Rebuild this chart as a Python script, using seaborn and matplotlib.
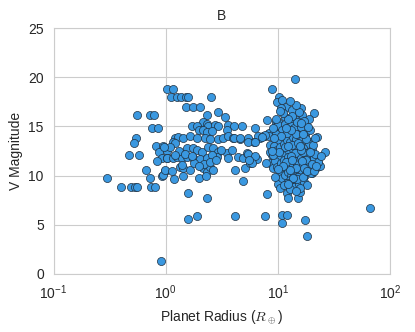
import pandas as pd
import matplotlib
matplotlib.use("Agg")
import matplotlib.pyplot as plt
import seaborn as sns

# Small planets (R < 1 Earth radius)
radius_small = [0.56, 0.72, 0.78, 0.75, 0.85, 0.54, 0.52, 0.47, 0.58, 0.82,
                0.94, 0.87, 1.02, 0.92, 1.02, 0.83, 0.67, 0.98, 0.30, 0.72,
                0.92, 0.40, 0.49, 0.53, 0.55, 0.74, 0.80, 0.91, 0.94]
vmag_small = [16.2, 16.2, 16.2, 14.8, 14.8, 13.8, 13.3, 12.1, 12.1, 13.0,
              13.0, 12.4, 12.5, 11.8, 11.8, 11.5, 10.6, 10.5, 9.75, 9.75,
              10.0, 8.85, 8.85, 8.85, 8.85, 8.85, 8.85, 1.3, 10.1]

# Intermediate planets (1 - 9 Earth radii)
radius_mid = [1.03, 1.16, 1.11, 1.26, 1.36, 1.51, 1.58, 2.52, 1.51, 1.75,
              2.02, 8.83, 2.92, 2.33, 3.37, 7.95, 9.6, 2.14, 2.33, 2.38,
              2.74, 2.92, 3.58, 4.05, 4.77, 1.71, 1.90, 1.98, 2.14, 2.33,
              2.58, 3.51, 6.23, 1.21, 1.28, 1.42, 1.64, 1.90, 2.24, 2.48,
              2.92, 3.23, 3.58, 3.97, 4.58, 5.4, 6.9, 7.64, 8.1, 1.16,
              1.21, 1.09, 0.97, 1.34, 1.55, 1.75, 1.90, 2.10, 2.38, 2.63,
              2.92, 3.51, 3.88, 4.40, 4.87, 5.28, 5.98, 6.49, 1.03, 1.16,
              1.26, 1.39, 1.55, 1.75, 2.02, 2.33, 2.85, 3.62, 0.98, 1.14,
              1.34, 1.42, 1.64, 2.14, 2.33, 2.48, 2.63, 4.13, 5.07, 5.62,
              1.18, 1.42, 1.98, 2.28, 4.87, 1.58, 2.33, 7.95, 1.58, 1.90,
              4.13, 7.64, 8.3, 6.6, 7.4, 8.3, 6.1, 5.4, 6.2, 5.9,
              5.5, 8.5, 8.8, 8.5, 9.8, 7.8, 8.5, 4.1, 4.6, 5.4,
              6.2, 9.0, 1.3, 1.5, 1.8, 2.2, 2.6, 3.1, 1.4, 1.7,
              2.0, 2.5, 1.2, 2.8]
vmag_mid = [18.8, 18.8, 18.0, 18.0, 18.0, 18.0, 18.0, 18.0, 17.0, 17.0,
            17.0, 18.8, 16.5, 16.2, 16.0, 15.7, 15.5, 15.5, 15.3, 15.0,
            15.2, 15.0, 15.2, 15.1, 15.0, 15.1, 15.0, 14.6, 14.6, 14.4,
            14.5, 14.6, 14.8, 13.8, 13.9, 13.8, 14.0, 13.8, 13.8, 13.7,
            13.7, 13.8, 14.0, 13.8, 13.7, 13.8, 13.8, 14.0, 14.2, 13.4,
            13.3, 12.9, 12.9, 12.3, 12.8, 12.8, 12.6, 12.4, 12.9, 12.8,
            12.4, 12.3, 12.6, 11.9, 11.8, 12.3, 11.9, 11.7, 11.8, 11.8,
            11.9, 11.8, 11.9, 11.8, 11.7, 11.8, 11.9, 11.8, 10.6, 10.5,
            10.9, 10.8, 10.6, 10.8, 10.4, 10.9, 10.6, 10.6, 10.8, 11.3,
            9.7, 10.0, 9.8, 10.0, 9.5, 8.2, 7.7, 8.1, 5.6, 5.9,
            5.9, 5.9, 14.3, 14.0, 14.0, 14.0, 13.4, 12.2, 12.0, 11.3,
            11.6, 13.1, 12.1, 11.3, 11.4, 11.3, 12.4, 13.8, 13.8, 13.4,
            13.4, 10.8, 12.5, 12.2, 11.3, 11.2, 12.1, 12.6, 11.1, 12.0,
            11.0, 11.4, 12.1, 11.6]

# Giant planets (> 9 Earth radii)
radius_big = [14.1, 10.2, 9.8, 10.8, 11.8, 10.6, 13.3, 16.0, 20.9, 16.3,
              14.4, 18.8, 11.5, 10.0, 13.3, 12.2, 9.4, 7.6, 7.2, 15.7,
              17.4, 22.2, 19.2, 26.2, 22.6, 22.2, 20.0, 16.7, 15.7, 14.7,
              10.0, 10.4, 12.0, 12.2, 15.0, 15.7, 16.7, 10.8, 12.0, 10.8,
              17.4, 18.1, 65.8, 23.6,
              10.1, 10.9, 11.6, 12.3, 13.1, 14.0, 15.2, 12.8, 11.0, 10.3,
              9.7, 9.2, 9.9, 10.5, 11.3, 12.0, 12.9, 13.6, 14.6, 15.5,
              16.4, 17.6, 18.8, 16.9, 15.8, 14.9, 13.9, 13.2, 12.5, 11.7,
              10.8, 10.0, 9.4, 9.8, 10.6, 11.4, 12.2, 12.9, 13.7, 14.5,
              15.4, 16.2, 17.3, 18.5, 19.8, 21.0, 20.3, 18.0, 16.8, 15.9,
              15.0, 14.2, 13.4, 12.6, 11.9, 11.1, 10.4, 10.9, 11.6, 12.4,
              13.1, 13.9, 14.8, 15.6, 16.5, 17.5, 18.7, 19.6, 20.8, 16.1,
              15.1, 14.3, 13.5, 12.7, 12.0, 11.3, 14.0, 15.4, 17.0, 18.3,
              12.9, 13.8, 14.8, 16.2, 17.0, 13.3, 12.4, 11.2, 10.4, 9.6,
              15.5, 14.5, 12.9, 16.6, 14.1, 11.5, 13.4, 15.0, 12.1, 10.7,
              9.1, 17.9, 19.2, 20.5, 21.6, 22.8, 24.0, 17.8, 19.0, 20.0,
              13.0, 11.9, 14.6, 13.4, 16.0, 12.2, 10.2, 15.7, 14.4, 13.0,
              11.8, 16.7, 18.4, 15.9, 12.7, 14.9, 16.3, 17.2, 11.0, 13.6,
              12.3, 15.8, 14.5, 16.8, 18.1, 19.4, 20.9, 22.0, 21.2, 10.1,
              9.5, 9.3, 8.9, 9.0]
vmag_big = [19.8, 18.0, 17.5, 17.7, 17.0, 16.9, 16.7, 16.9, 16.4, 16.2,
            15.7, 15.8, 16.0, 15.5, 15.5, 15.0, 14.9, 14.1, 13.9, 14.3,
            14.1, 13.9, 13.4, 12.4, 11.3, 10.9, 10.3, 9.8, 9.3, 9.6,
            9.1, 8.7, 8.2, 7.7, 7.7, 8.3, 9.3, 6.0, 6.0, 5.2,
            5.5, 3.9, 6.7, 11.0,
            15.2, 14.6, 15.3, 14.8, 15.1, 14.6, 15.0, 14.2, 13.9, 13.5,
            14.2, 13.0, 12.6, 12.9, 13.2, 13.6, 13.4, 13.9, 13.7, 14.1,
            13.6, 14.4, 13.2, 12.8, 12.9, 12.6, 12.9, 12.4, 12.7, 12.3,
            12.1, 11.8, 11.5, 10.9, 11.3, 11.6, 11.9, 11.5, 12.0, 11.8,
            12.2, 11.9, 12.3, 12.0, 11.5, 11.8, 12.6, 11.2, 11.0, 11.3,
            11.0, 11.2, 10.9, 11.1, 10.8, 10.5, 10.2, 9.8, 10.1, 10.4,
            10.0, 10.3, 10.6, 10.2, 10.5, 10.1, 10.6, 10.3, 10.9, 9.6,
            9.9, 9.5, 9.2, 9.6, 9.3, 9.0, 8.8, 9.1, 9.4, 9.0,
            8.6, 14.8, 15.5, 14.9, 15.6, 16.1, 15.8, 16.4, 16.6, 15.8,
            16.5, 17.2, 17.6, 12.4, 12.3, 12.9, 13.1, 13.3, 14.3, 14.0,
            12.1, 13.7, 14.6, 13.1, 12.2, 11.4, 12.0, 11.6, 10.9, 11.2,
            12.0, 11.4, 10.8, 11.6, 12.6, 13.0, 12.4, 13.0, 14.2, 14.6,
            14.8, 14.2, 14.9, 15.4, 10.6, 9.7, 11.5, 10.8, 11.0, 9.8,
            9.1, 8.7, 8.4, 9.9, 10.5, 12.4, 10.5, 11.0, 13.8, 10.7,
            9.9, 13.8, 12.5, 14.8]

df = pd.DataFrame({
    "radius": radius_small + radius_mid + radius_big,
    "vmag": vmag_small + vmag_mid + vmag_big,
})

sns.set_style("whitegrid")
plt.rcParams["font.family"] = ["Liberation Sans", "DejaVu Sans"]
plt.rcParams["mathtext.fontset"] = "cm"

fig = plt.figure(figsize=(4.15, 3.32), dpi=100)
ax = fig.add_axes([0.129, 0.175, 0.811, 0.740])

sns.scatterplot(data=df, x="radius", y="vmag", ax=ax, s=34,
                color="#3a98e0", edgecolor="#1f2f3f", linewidth=0.5)

ax.set_xscale("log")
ax.set_xlim(0.1, 100)
ax.set_ylim(0, 25)
ax.set_yticks([0, 5, 10, 15, 20, 25])
ax.tick_params(labelsize=10)
ax.set_xlabel(r"Planet Radius ($R_\oplus$)", fontsize=10)
ax.set_ylabel("V Magnitude", fontsize=10)
ax.set_title("B", fontsize=10)
ax.minorticks_off()

fig.savefig("out.png", dpi=100)
